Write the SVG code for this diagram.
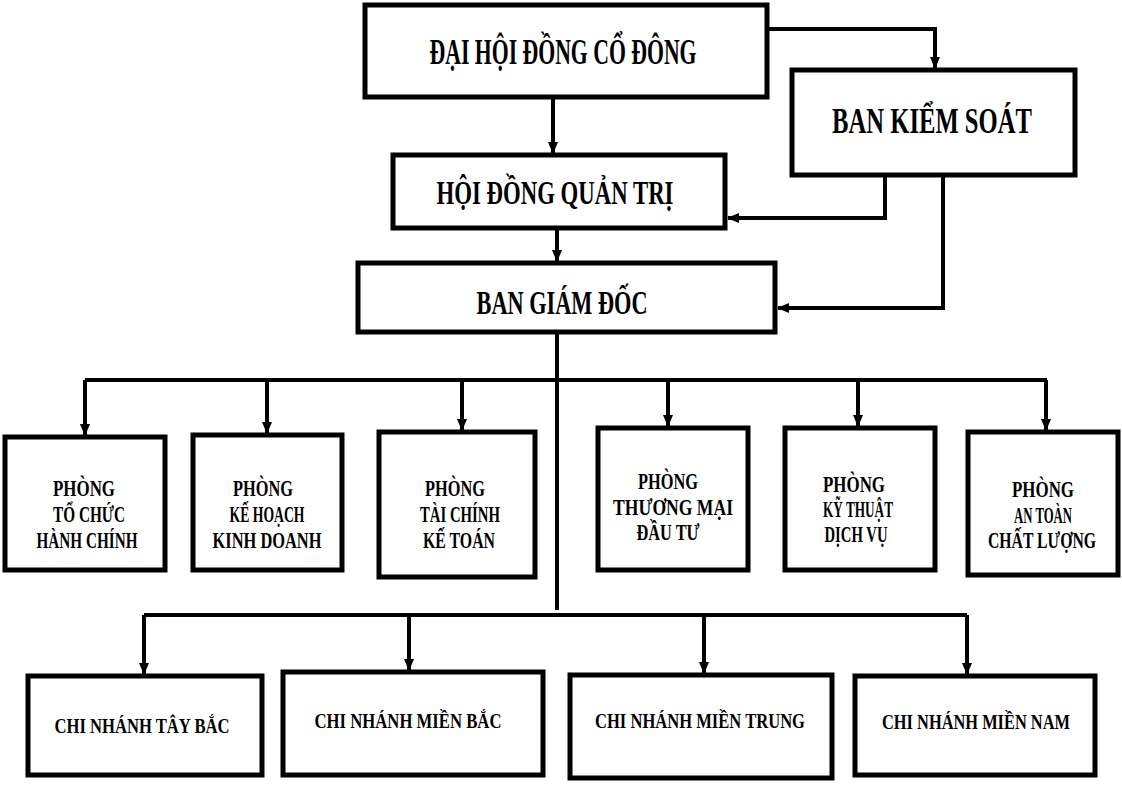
<svg xmlns="http://www.w3.org/2000/svg" width="1122" height="786" viewBox="0 0 1122 786">
<defs>
<marker id="arr" markerUnits="userSpaceOnUse" markerWidth="12" markerHeight="12" viewBox="0 0 12 12" refX="11" refY="6" orient="auto">
<path d="M0,1 L12,6 L0,11 Z" fill="#000"/>
</marker>
</defs>
<style>
.box{fill:#fff;stroke:#000;stroke-width:5}
.c{fill:none;stroke:#000;stroke-width:4;stroke-linejoin:miter}
.ca{fill:none;stroke:#000;stroke-width:4;marker-end:url(#arr)}
text{font-family:"Liberation Serif","Times New Roman",serif;font-weight:bold;fill:#000;text-anchor:middle}
.t1{font-size:36px}
.t2{font-size:34px}
.d{font-size:23px}
.b{font-size:22px}
</style>
<rect width="1122" height="786" fill="#fff"/>
<g id="connectors">
<path class="ca" d="M767,29 H935 V68"/>
<path class="ca" d="M553,97 V153"/>
<path class="ca" d="M557,228 V261"/>
<path class="ca" d="M885,175 V218 H728"/>
<path class="ca" d="M943,175 V308 H778"/>
<path class="c" d="M557,332 V610"/>
<path class="c" d="M85,380 H1047"/>
<path class="ca" d="M85,380 V435"/>
<path class="ca" d="M267,380 V433"/>
<path class="ca" d="M462,380 V430"/>
<path class="ca" d="M668,380 V426"/>
<path class="ca" d="M858,380 V426"/>
<path class="ca" d="M1046,380 V430"/>
<path class="c" d="M144,615 H967"/>
<path class="ca" d="M144,615 V674"/>
<path class="ca" d="M409,615 V670"/>
<path class="ca" d="M704,615 V673"/>
<path class="ca" d="M967,615 V674"/>
</g>
<g id="dhdcd">
<rect class="box" x="365" y="5" width="402" height="92"/>
<text class="t1" x="563" y="64" textLength="267" lengthAdjust="spacingAndGlyphs">ĐẠI HỘI ĐỒNG CỔ ĐÔNG</text>
</g>
<g id="bks">
<rect class="box" x="792" y="70" width="283" height="105"/>
<text class="t1" x="932" y="133" textLength="200" lengthAdjust="spacingAndGlyphs">BAN KIỂM SOÁT</text>
</g>
<g id="hdqt">
<rect class="box" x="393" y="155" width="332" height="73"/>
<text class="t2" x="555" y="204" textLength="237" lengthAdjust="spacingAndGlyphs">HỘI ĐỒNG QUẢN TRỊ</text>
</g>
<g id="bgd">
<rect class="box" x="358" y="263" width="417" height="69"/>
<text class="t2" x="562" y="314" textLength="171" lengthAdjust="spacingAndGlyphs">BAN GIÁM ĐỐC</text>
</g>
<g id="p1">
<rect class="box" x="5" y="437" width="160" height="133"/>
<text class="d" x="84" y="496" textLength="62" lengthAdjust="spacingAndGlyphs">PHÒNG</text>
<text class="d" x="89" y="522" textLength="72" lengthAdjust="spacingAndGlyphs">TỔ CHỨC</text>
<text class="d" x="87" y="548" textLength="101" lengthAdjust="spacingAndGlyphs">HÀNH CHÍNH</text>
</g>
<g id="p2">
<rect class="box" x="193" y="435" width="149" height="135"/>
<text class="d" x="263" y="496" textLength="60" lengthAdjust="spacingAndGlyphs">PHÒNG</text>
<text class="d" x="267" y="522" textLength="75" lengthAdjust="spacingAndGlyphs">KẾ HOẠCH</text>
<text class="d" x="267" y="548" textLength="109" lengthAdjust="spacingAndGlyphs">KINH DOANH</text>
</g>
<g id="p3">
<rect class="box" x="379" y="432" width="156" height="145"/>
<text class="d" x="455" y="496" textLength="60" lengthAdjust="spacingAndGlyphs">PHÒNG</text>
<text class="d" x="460" y="522" textLength="80" lengthAdjust="spacingAndGlyphs">TÀI CHÍNH</text>
<text class="d" x="459" y="548" textLength="72" lengthAdjust="spacingAndGlyphs">KẾ TOÁN</text>
</g>
<g id="p4">
<rect class="box" x="598" y="428" width="150" height="142"/>
<text class="d" x="668" y="489" textLength="60" lengthAdjust="spacingAndGlyphs">PHÒNG</text>
<text class="d" x="673" y="515" textLength="120" lengthAdjust="spacingAndGlyphs">THƯƠNG MẠI</text>
<text class="d" x="668" y="540" textLength="63" lengthAdjust="spacingAndGlyphs">ĐẦU TƯ</text>
</g>
<g id="p5">
<rect class="box" x="785" y="428" width="150" height="142"/>
<text class="d" x="854" y="492" textLength="62" lengthAdjust="spacingAndGlyphs">PHÒNG</text>
<text class="d" x="858" y="517" textLength="70" lengthAdjust="spacingAndGlyphs">KỸ THUẬT</text>
<text class="d" x="856" y="542" textLength="63" lengthAdjust="spacingAndGlyphs">DỊCH VỤ</text>
</g>
<g id="p6">
<rect class="box" x="968" y="432" width="150" height="143"/>
<text class="d" x="1043" y="497" textLength="62" lengthAdjust="spacingAndGlyphs">PHÒNG</text>
<text class="d" x="1043" y="523" textLength="58" lengthAdjust="spacingAndGlyphs">AN TOÀN</text>
<text class="d" x="1042" y="548" textLength="108" lengthAdjust="spacingAndGlyphs">CHẤT LƯỢNG</text>
</g>
<g id="cn1">
<rect class="box" x="28" y="676" width="234" height="99"/>
<text class="b" x="142" y="733" textLength="175" lengthAdjust="spacingAndGlyphs">CHI NHÁNH TÂY BẮC</text>
</g>
<g id="cn2">
<rect class="box" x="283" y="672" width="260" height="103"/>
<text class="b" x="408" y="728" textLength="187" lengthAdjust="spacingAndGlyphs">CHI NHÁNH MIỀN BẮC</text>
</g>
<g id="cn3">
<rect class="box" x="570" y="675" width="262" height="103"/>
<text class="b" x="700" y="728" textLength="210" lengthAdjust="spacingAndGlyphs">CHI NHÁNH MIỀN TRUNG</text>
</g>
<g id="cn4">
<rect class="box" x="855" y="676" width="240" height="99"/>
<text class="b" x="976" y="729" textLength="188" lengthAdjust="spacingAndGlyphs">CHI NHÁNH MIỀN NAM</text>
</g>
</svg>
